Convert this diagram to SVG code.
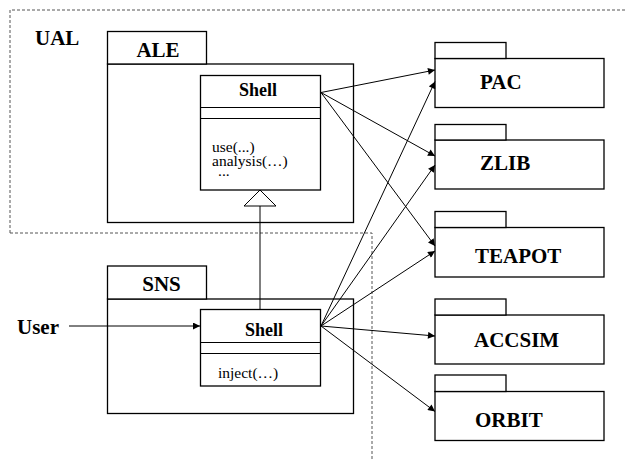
<svg xmlns="http://www.w3.org/2000/svg" width="626" height="460" viewBox="0 0 626 460">
<defs>
<style>
.box{fill:#fff;stroke:#000;stroke-width:1.3}
.ln{fill:none;stroke:#000;stroke-width:1}
.dash{fill:none;stroke:#555;stroke-width:1;stroke-dasharray:3 2}
text{font-family:'Liberation Serif','Times New Roman',serif;fill:#000}
.b{font-weight:bold}
.r{font-size:15.5px}
.big{font-size:21px}
.sh{font-size:18px}
</style>
<marker id="ah" viewBox="0 0 10 10" refX="10" refY="5" markerWidth="8" markerHeight="7" markerUnits="userSpaceOnUse" orient="auto">
<path d="M0,0 L10,5 L0,10 z" fill="#000"/>
</marker>
</defs>
<rect width="626" height="460" fill="#fff"/>
<g id="UAL">
<path class="dash" d="M10,233 L10,10 L626,10"/>
<path class="dash" d="M10,233 L372,233 L372,460"/>
<text class="b big" x="35" y="45">UAL</text>
</g>
<g id="ALE">
<rect class="box" x="107.5" y="64" width="246" height="158.5"/>
<rect class="box" x="107.5" y="31.5" width="99" height="32.5"/>
<text class="b big" x="158" y="57" text-anchor="middle">ALE</text>
</g>
<g id="ALE_Shell">
<rect class="box" x="200.5" y="75.5" width="120" height="114.5"/>
<line class="ln" x1="200.5" y1="107.5" x2="320.5" y2="107.5"/>
<line class="ln" x1="200.5" y1="118.5" x2="320.5" y2="118.5"/>
<text class="b sh" x="258" y="96" text-anchor="middle">Shell</text>
<text class="r" x="212" y="152">use(...)</text>
<text class="r" x="212" y="165.5">analysis(…)</text>
<text class="r" x="218" y="176">...</text>
</g>
<g id="SNS">
<rect class="box" x="107.5" y="299" width="246" height="114.5"/>
<rect class="box" x="107.5" y="266" width="99" height="33"/>
<text class="b big" x="161.5" y="291" text-anchor="middle">SNS</text>
</g>
<g id="SNS_Shell">
<rect class="box" x="200.5" y="309.5" width="120" height="76.5"/>
<line class="ln" x1="200.5" y1="342.5" x2="320.5" y2="342.5"/>
<line class="ln" x1="200.5" y1="353.5" x2="320.5" y2="353.5"/>
<text class="b sh" x="264" y="336" text-anchor="middle">Shell</text>
<text class="r" x="218" y="378">inject(…)</text>
</g>
<g id="User">
<text class="b big" x="17" y="334">User</text>
</g>
<g id="PAC">
<rect class="box" x="435" y="58.5" width="169" height="49"/>
<rect class="box" x="435" y="42.5" width="71" height="16"/>
<text class="b big" x="480" y="89">PAC</text>
</g>
<g id="ZLIB">
<rect class="box" x="435" y="140" width="169" height="49"/>
<rect class="box" x="435" y="124.5" width="71" height="15.5"/>
<text class="b big" x="480" y="170">ZLIB</text>
</g>
<g id="TEAPOT">
<rect class="box" x="435" y="227.5" width="169" height="49.5"/>
<rect class="box" x="435" y="211.5" width="71" height="16"/>
<text class="b big" x="475" y="263">TEAPOT</text>
</g>
<g id="ACCSIM">
<rect class="box" x="435" y="315" width="169" height="49"/>
<rect class="box" x="435" y="299" width="71" height="16"/>
<text class="b big" x="474" y="347">ACCSIM</text>
</g>
<g id="ORBIT">
<rect class="box" x="435" y="391.5" width="169" height="49"/>
<rect class="box" x="435" y="375" width="71" height="16.5"/>
<text class="b big" x="475" y="427">ORBIT</text>
</g>
<g id="connectors">
<path class="ln" d="M260,206 L260,309.5"/>
<path d="M260,190 L244,206 L276,206 z" fill="#fff" stroke="#000" stroke-width="1"/>
<line class="ln" x1="69" y1="326" x2="200" y2="326" stroke="#444" stroke-width="1.5" marker-end="url(#ah)"/>
<line class="ln" x1="321" y1="92.5" x2="435" y2="70" marker-end="url(#ah)"/>
<line class="ln" x1="321" y1="92.5" x2="435" y2="156" marker-end="url(#ah)"/>
<line class="ln" x1="321" y1="92.5" x2="435" y2="246" marker-end="url(#ah)"/>
<line class="ln" x1="321" y1="326" x2="435" y2="81.5" marker-end="url(#ah)"/>
<line class="ln" x1="321" y1="326" x2="435" y2="165" marker-end="url(#ah)"/>
<line class="ln" x1="321" y1="326" x2="435" y2="251" marker-end="url(#ah)"/>
<line class="ln" x1="321" y1="326" x2="435" y2="336" marker-end="url(#ah)"/>
<line class="ln" x1="321" y1="326" x2="435" y2="411.5" marker-end="url(#ah)"/>
</g>
</svg>
